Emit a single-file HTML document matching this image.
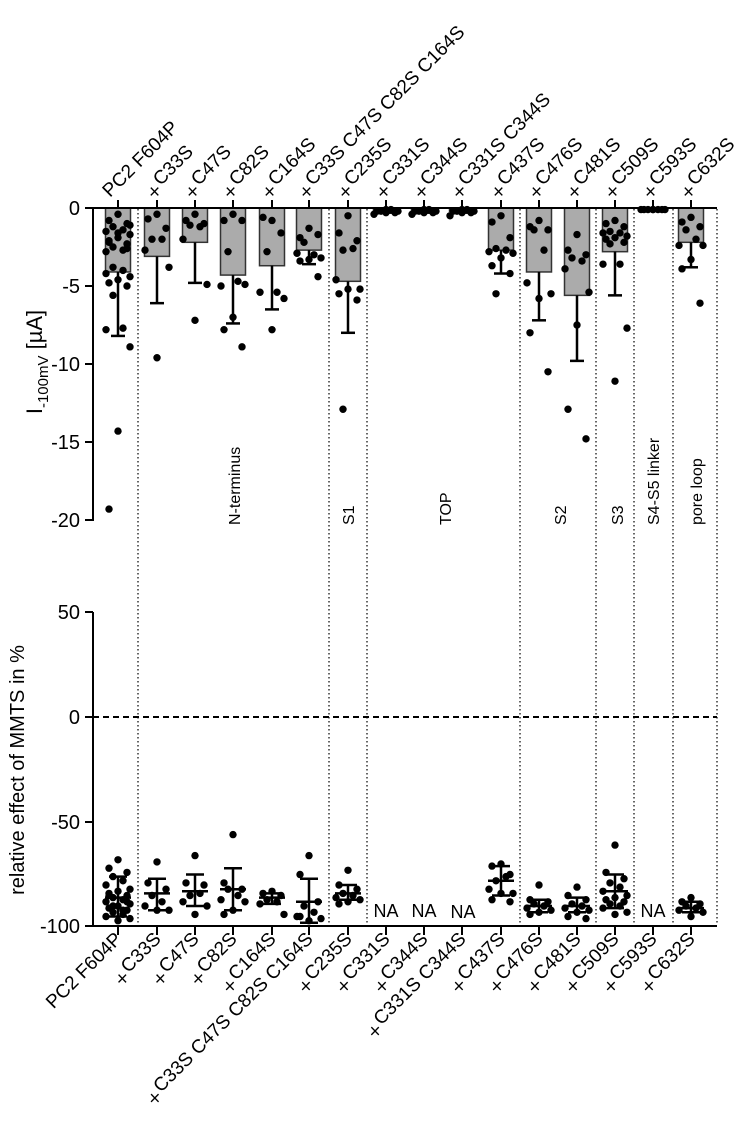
<!DOCTYPE html>
<html><head><meta charset="utf-8"><style>
html,body{margin:0;padding:0;background:#fff;}
svg{display:block;font-family:"Liberation Sans",Arial,sans-serif;}
</style></head><body>
<svg id="s" width="754" height="1140" viewBox="0 0 754 1140" xmlns="http://www.w3.org/2000/svg">
<g id="div" stroke="#000" stroke-width="1.2" stroke-dasharray="1.5,2.5"></g>
<g id="bars"></g>
<g stroke="#000" stroke-width="2" fill="none">
<line x1="93" y1="208" x2="93" y2="521"/>
<line x1="93" y1="208" x2="717" y2="208"/>
<line x1="85" y1="208" x2="93" y2="208"/><line x1="85" y1="286" x2="93" y2="286"/>
<line x1="85" y1="364" x2="93" y2="364"/><line x1="85" y1="442" x2="93" y2="442"/>
<line x1="85" y1="520" x2="93" y2="520"/>
<line x1="93" y1="612" x2="93" y2="927"/>
<line x1="93" y1="926" x2="717" y2="926"/>
<line x1="85" y1="612" x2="93" y2="612"/><line x1="85" y1="717" x2="93" y2="717"/>
<line x1="85" y1="822" x2="93" y2="822"/><line x1="85" y1="926" x2="93" y2="926"/>
</g>
<line x1="93" y1="717" x2="717" y2="717" stroke="#000" stroke-width="2" stroke-dasharray="6,4"/>
<g id="ticks" stroke="#000" stroke-width="2"></g>
<g font-size="20" text-anchor="end" fill="#000">
<text x="80" y="215">0</text><text x="80" y="293">-5</text><text x="80" y="371">-10</text>
<text x="80" y="449">-15</text><text x="80" y="527">-20</text>
<text x="80" y="619">50</text><text x="80" y="724">0</text><text x="80" y="829">-50</text>
<text x="80" y="933">-100</text>
</g>
<text transform="translate(42,362) rotate(-90)" font-size="22" text-anchor="middle">I<tspan font-size="15" dy="6">-100mV</tspan><tspan dy="-6"> [µA]</tspan></text>
<text transform="translate(24,770) rotate(-90)" font-size="20" text-anchor="middle">relative effect of MMTS in %</text>
<g font-size="16" fill="#000">
<text transform="translate(240,525) rotate(-90)">N-terminus</text>
<text transform="translate(354,525) rotate(-90)">S1</text>
<text transform="translate(451,525) rotate(-90)">TOP</text>
<text transform="translate(566,525) rotate(-90)">S2</text>
<text transform="translate(623,525) rotate(-90)">S3</text>
<text transform="translate(659,525) rotate(-90)">S4-S5 linker</text>
<text transform="translate(702,525) rotate(-90)">pore loop</text>
</g>
<g font-size="18" text-anchor="middle">
<text x="386" y="917">NA</text><text x="424" y="917">NA</text><text x="463" y="918">NA</text><text x="653" y="917">NA</text>
</g>
<g font-size="19" fill="#000">
<text transform="translate(110,198) rotate(-45)">PC2 F604P</text>
<text transform="translate(149,198) rotate(-45)"><tspan rotate="45">×</tspan> C33S</text>
<text transform="translate(187,198) rotate(-45)"><tspan rotate="45">×</tspan> C47S</text>
<text transform="translate(225,198) rotate(-45)"><tspan rotate="45">×</tspan> C82S</text>
<text transform="translate(264,198) rotate(-45)"><tspan rotate="45">×</tspan> C164S</text>
<text transform="translate(301,198) rotate(-45)"><tspan rotate="45">×</tspan> C33S C47S C82S C164S</text>
<text transform="translate(340,198) rotate(-45)"><tspan rotate="45">×</tspan> C235S</text>
<text transform="translate(378,198) rotate(-45)"><tspan rotate="45">×</tspan> C331S</text>
<text transform="translate(416,198) rotate(-45)"><tspan rotate="45">×</tspan> C344S</text>
<text transform="translate(454,198) rotate(-45)"><tspan rotate="45">×</tspan> C331S C344S</text>
<text transform="translate(493,198) rotate(-45)"><tspan rotate="45">×</tspan> C437S</text>
<text transform="translate(531,198) rotate(-45)"><tspan rotate="45">×</tspan> C476S</text>
<text transform="translate(569,198) rotate(-45)"><tspan rotate="45">×</tspan> C481S</text>
<text transform="translate(607,198) rotate(-45)"><tspan rotate="45">×</tspan> C509S</text>
<text transform="translate(645,198) rotate(-45)"><tspan rotate="45">×</tspan> C593S</text>
<text transform="translate(683,198) rotate(-45)"><tspan rotate="45">×</tspan> C632S</text>
</g>
<g font-size="19" fill="#000" text-anchor="end">
<text transform="translate(123,940) rotate(-45)">PC2 F604P</text>
<text transform="translate(162,940) rotate(-45)"><tspan rotate="45">×</tspan> C33S</text>
<text transform="translate(200,940) rotate(-45)"><tspan rotate="45">×</tspan> C47S</text>
<text transform="translate(238,940) rotate(-45)"><tspan rotate="45">×</tspan> C82S</text>
<text transform="translate(277,940) rotate(-45)"><tspan rotate="45">×</tspan> C164S</text>
<text transform="translate(314,940) rotate(-45)"><tspan rotate="45">×</tspan> C33S C47S C82S C164S</text>
<text transform="translate(353,940) rotate(-45)"><tspan rotate="45">×</tspan> C235S</text>
<text transform="translate(391,940) rotate(-45)"><tspan rotate="45">×</tspan> C331S</text>
<text transform="translate(429,940) rotate(-45)"><tspan rotate="45">×</tspan> C344S</text>
<text transform="translate(467,940) rotate(-45)"><tspan rotate="45">×</tspan> C331S C344S</text>
<text transform="translate(506,940) rotate(-45)"><tspan rotate="45">×</tspan> C437S</text>
<text transform="translate(544,940) rotate(-45)"><tspan rotate="45">×</tspan> C476S</text>
<text transform="translate(582,940) rotate(-45)"><tspan rotate="45">×</tspan> C481S</text>
<text transform="translate(620,940) rotate(-45)"><tspan rotate="45">×</tspan> C509S</text>
<text transform="translate(658,940) rotate(-45)"><tspan rotate="45">×</tspan> C593S</text>
<text transform="translate(696,940) rotate(-45)"><tspan rotate="45">×</tspan> C632S</text>
</g>
<g id="dots" fill="#000"></g>
</svg>
<script>
var NS="http://www.w3.org/2000/svg";
function el(p,t,a){var e=document.createElementNS(NS,t);for(var k in a)e.setAttribute(k,a[k]);p.appendChild(e);return e;}
var X=[118,157,195,233,272,309,348,386,424,462,501,539,577,615,653,691];
var dv=document.getElementById('div');
[138,329,367,520,596,634,673,717].forEach(function(x){el(dv,'line',{x1:x,y1:209,x2:x,y2:925});});
var tk=document.getElementById('ticks');
X.forEach(function(x){el(tk,'line',{x1:x,y1:200,x2:x,y2:208});el(tk,'line',{x1:x,y1:926,x2:x,y2:935});});
var T=[
[4.1,8.2,[0.4,0.8,1,1.2,1.4,1.5,1.7,1.9,2.1,2.3,2.5,2.7,2.8,1.1,1.6,2.2,2.6,3.8,4,4.2,4.4,4.6,4.8,5.0,5.6,7.7,7.8,8.9,14.3,19.3]],
[3.1,6.1,[0.4,0.7,1.3,2,2,2.7,3.8,9.6]],
[2.2,4.8,[0.4,0.8,1.0,1.1,1.2,2.0,4.9,7.2]],
[4.3,7.4,[0.4,0.8,0.8,2.8,4.7,5.0,4.9,7.0,7.8,8.9]],
[3.7,6.5,[0.8,0.6,1.6,2.8,5.4,5.4,5.8,7.8]],
[2.7,3.6,[1.3,1.9,1.7,2.2,3,2.9,3.2,3.3,3.4,4.4]],
[4.7,8.0,[0.5,1.6,2.1,2.7,2.6,4.6,5.2,5.2,5.5,5.9,12.9]],
[0.2,0.3,[0.1,0.2,0.3,0.2,0.1,0.4,0.2,0.3]],
[0.2,0.3,[0.1,0.2,0.3,0.2,0.1,0.4,0.2,0.3]],
[0.2,0.3,[0.1,0.2,0.3,0.2,0.1,0.5,0.2,0.3]],
[2.7,4.2,[0.5,0.9,1.9,2.6,2.7,2.8,2.9,3.2,3.7,4.2,5.5]],
[4.1,7.2,[0.8,1.2,1.4,1.4,2.7,4.8,5.5,5.8,8.0,10.5]],
[5.6,9.8,[1.7,2.7,3.0,3.2,3.4,3.9,5.4,7.5,12.9,14.8]],
[2.8,5.6,[0.8,1.0,1.2,1.5,1.6,1.6,1.8,1.9,2.0,2.2,2.3,3.6,3.6,7.7,11.1]],
[0.1,0.1,[0.1,0.1,0.1,0.1,0.1,0.1,0.1,0.1]],
[2.2,3.8,[0.6,0.9,1.2,1.4,2.0,2.4,2.4,3.3,3.9,6.1]]];
var B=[
[-86,-76,-95,[-68,-72,-74,-76,-78,-80,-82,-83,-84,-85,-86,-87,-88,-89,-90,-91,-92,-93,-94,-95,-96,-97,-85,-88,-90,-92]],
[-84,-77,-92,[-69,-79,-82,-85,-88,-90,-92,-92]],
[-83,-75,-90,[-66,-79,-80,-85,-84,-88,-90,-94]],
[-82,-72,-92,[-56,-79,-82,-82,-85,-87,-88,-92,-94]],
[-86,-84,-89,[-83,-84,-85,-87,-88,-89,-94]],
[-88,-77,-98,[-66,-75,-88,-90,-93,-95,-96,-97,-95]],
[-84,-80,-87,[-73,-80,-82,-84,-85,-86,-87,-88,-89]],
null,null,null,
[-78,-71,-85,[-70,-71,-75,-78,-76,-82,-84,-84,-87,-88]],
[-90,-87,-93,[-80,-87,-88,-89,-90,-91,-92,-93,-94]],
[-90,-86,-93,[-81,-85,-87,-89,-90,-91,-92,-93,-95,-96]],
[-83,-75,-91,[-61,-74,-77,-79,-81,-83,-85,-86,-87,-88,-89,-90,-91,-93,-94]],
null,
[-91,-88,-93,[-86,-88,-89,-90,-91,-92,-93,-95]]];
var bars=document.getElementById('bars'),dots=document.getElementById('dots');
function jit(i){var o=[0,-9,9,-5,5,-12,12];return o[i%7];}
T.forEach(function(d,i){var x=X[i],ym=208+d[0]*15.6,ys=208+d[1]*15.6;
 el(bars,'rect',{x:x-12.5,y:208,width:25,height:d[0]*15.6,fill:'#ababab',stroke:'#333','stroke-width':1.5});
 d[2].forEach(function(v,k){el(dots,'circle',{cx:x+jit(k),cy:208+v*15.6,r:3.7});});
 el(dots,'line',{x1:x,y1:ym,x2:x,y2:ys,stroke:'#000','stroke-width':2.5});
 el(dots,'line',{x1:x-7,y1:ys,x2:x+7,y2:ys,stroke:'#000','stroke-width':2.5});
});
function by(v){return 717-v*2.1;}
B.forEach(function(d,i){if(!d)return;var x=X[i];
 d[3].forEach(function(v,k){el(dots,'circle',{cx:x+jit(k),cy:by(v),r:3.7});});
 el(dots,'line',{x1:x-13,y1:by(d[0]),x2:x+13,y2:by(d[0]),stroke:'#000','stroke-width':2.5});
 el(dots,'line',{x1:x,y1:by(d[1]),x2:x,y2:by(d[2]),stroke:'#000','stroke-width':2.5});
 el(dots,'line',{x1:x-9,y1:by(d[1]),x2:x+9,y2:by(d[1]),stroke:'#000','stroke-width':2.5});
 el(dots,'line',{x1:x-9,y1:by(d[2]),x2:x+9,y2:by(d[2]),stroke:'#000','stroke-width':2.5});
});
</script>
</body></html>
